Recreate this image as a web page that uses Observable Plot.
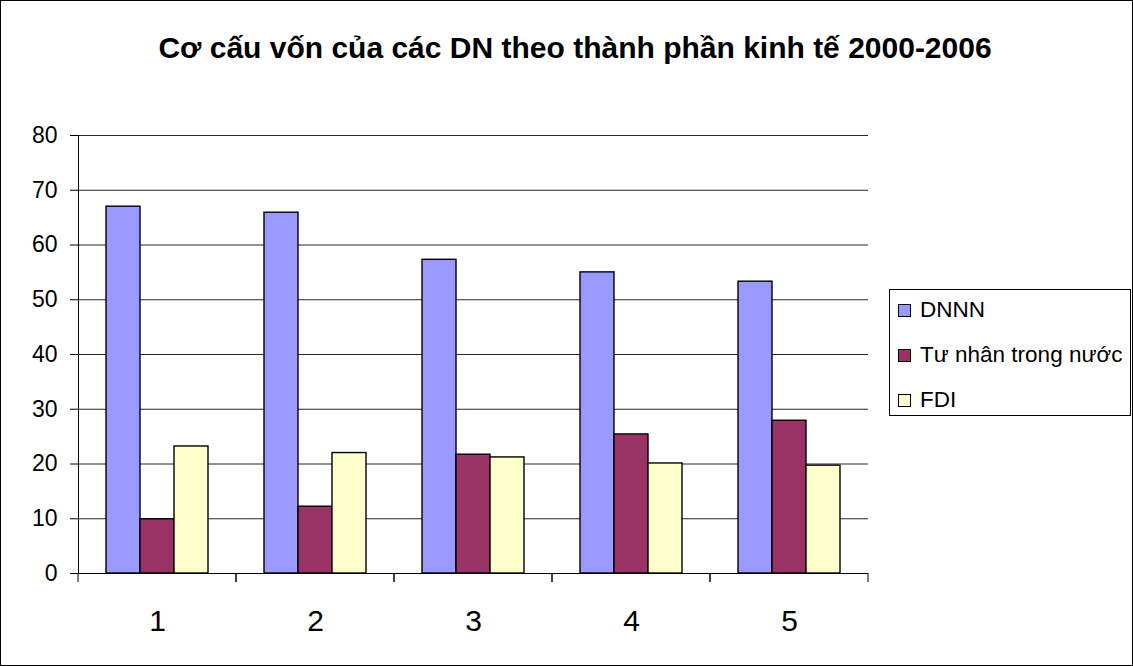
<!DOCTYPE html>
<html><head><meta charset="utf-8">
<script src="https://cdn.jsdelivr.net/npm/d3@7"></script>
<script src="https://cdn.jsdelivr.net/npm/@observablehq/plot@0.6"></script>
<style>
body{margin:0;background:#fff;font-family:"Liberation Sans",Arial,sans-serif;color:#000}
#wrap{position:relative;width:1133px;height:666px;overflow:hidden;background:#fff}
#chart{position:absolute;left:0;top:0}
#title{position:absolute;left:0;width:1150px;top:31px;text-align:center;font-weight:bold;font-size:30px;line-height:34px;white-space:nowrap}
#legend{position:absolute;left:889px;top:289px;width:242px;height:127px;box-sizing:border-box;border:1px solid #000;background:#fff}
.item{position:absolute;left:8px;display:flex;align-items:center;font-size:22.5px;line-height:26px;white-space:nowrap}
.sw{width:13px;height:13px;box-sizing:border-box;border:1.5px solid #000;margin-right:9px;flex:none}
#border{position:absolute;left:0;top:0;width:1133px;height:666px;box-sizing:border-box;border:1px solid #000;pointer-events:none}
</style></head>
<body>
<div id="wrap">
  <div id="chart"></div>
  <div id="title"></div>
  <div id="legend"></div>
  <div id="border"></div>
</div>
<script>
const titleText = "Cơ cấu vốn của các DN theo thành phần kinh tế 2000-2006";
const categories = ["1", "2", "3", "4", "5"];
const seriesNames = ["DNNN", "Tư nhân trong nước", "FDI"];
const dnnn = [67.0, 65.9, 57.3, 55.0, 53.3];
const tuNhan = [9.9, 12.2, 21.7, 25.4, 27.9];
const fdi = [23.2, 22.0, 21.2, 20.1, 19.7];
const colors = ["#9999FF", "#993366", "#FFFFCC"];
const yTicks = [0, 10, 20, 30, 40, 50, 60, 70, 80];

const seriesValues = [dnnn, tuNhan, fdi];
const data = [];
categories.forEach((c, i) => seriesNames.forEach((s, j) => data.push({cat: c, series: s, value: seriesValues[j][i]})));

document.getElementById("title").textContent = titleText;

const legend = document.getElementById("legend");
const legendTops = [7, 52, 97];
seriesNames.forEach((s, j) => {
  const it = document.createElement("div");
  it.className = "item";
  it.style.top = legendTops[j] + "px";
  const sw = document.createElement("div");
  sw.className = "sw";
  sw.style.background = colors[j];
  const tx = document.createElement("span");
  tx.textContent = s;
  it.appendChild(sw); it.appendChild(tx);
  legend.appendChild(it);
});

const boundaryTicks = (index, scales, values, dims) => {
  const x = scales.x, y = scales.y;
  const r = x && x.range ? x.range() : [dims.marginLeft, dims.width - dims.marginRight];
  const y0 = y(0);
  const g = d3.create("svg:g");
  for (const xv of r) {
    g.append("line").attr("x1", xv).attr("x2", xv).attr("y1", y0).attr("y2", y0 + 9)
      .attr("stroke", "#000").attr("stroke-width", 1);
  }
  return g.node();
};

const chart = Plot.plot({
  width: 1133,
  height: 666,
  marginLeft: 76,
  marginRight: 264,
  marginTop: 135,
  marginBottom: 93,
  style: {fontFamily: "'Liberation Sans', Arial, sans-serif", color: "#000", background: "transparent"},
  fx: {domain: categories, padding: 0, label: null},
  x: {domain: seriesNames, paddingInner: 0, paddingOuter: 0.77, axis: null},
  y: {domain: [0, 80], label: null},
  color: {domain: seriesNames, range: colors},
  marks: [
    Plot.gridY(yTicks, {stroke: "#000", strokeOpacity: 0.85}),
    Plot.barY(data, {fx: "cat", x: "series", y: "value", fill: "series", stroke: "#000", strokeWidth: 1.4}),
    Plot.ruleY([0], {stroke: "#000"}),
    Plot.frame({anchor: "left", facetAnchor: "left", stroke: "#000"}),
    Plot.axisY(yTicks, {tickSize: 8, tickPadding: 13, fontSize: 23, label: null, stroke: "#000"}),
    Plot.axisFx({anchor: "bottom", tickSize: 0, tickPadding: 36, fontSize: 30, label: null}),
    boundaryTicks
  ]
});
document.getElementById("chart").appendChild(chart);
</script>
</body></html>
